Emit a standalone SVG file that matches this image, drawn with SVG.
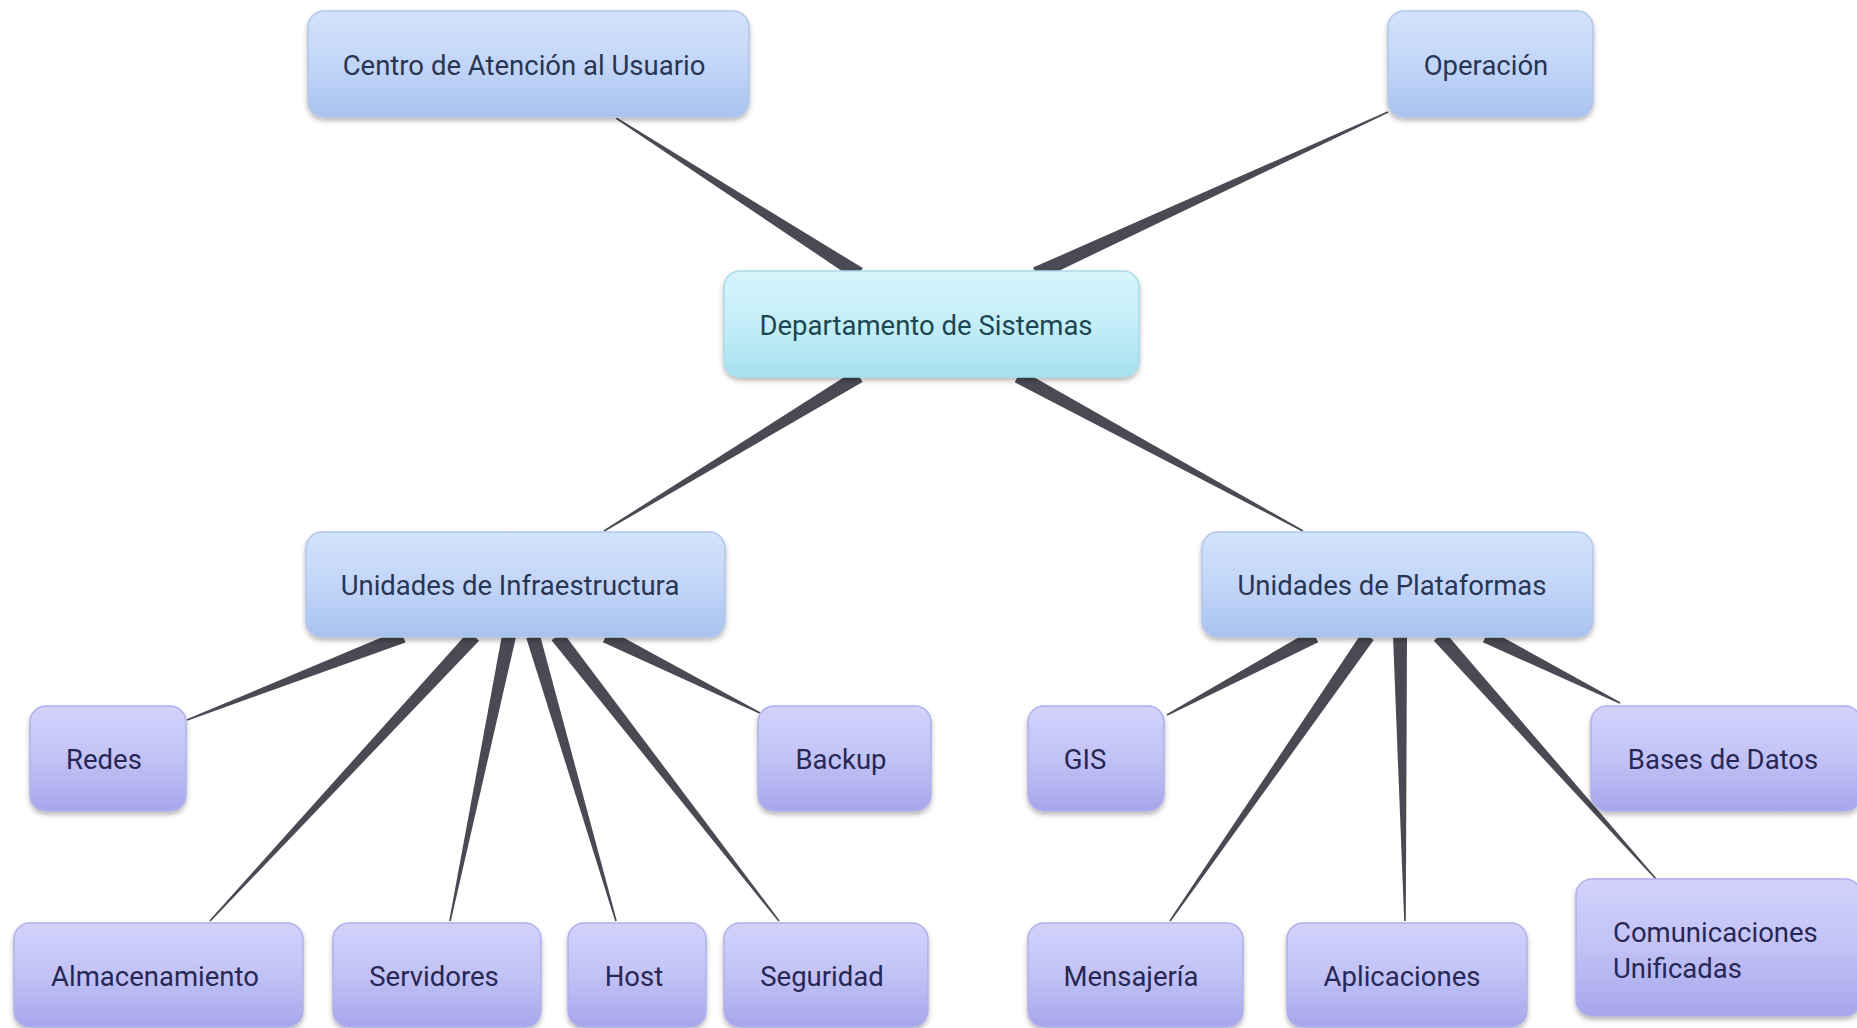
<svg xmlns="http://www.w3.org/2000/svg" width="1857" height="1028" viewBox="0 0 1857 1028">
<defs>
<linearGradient id="gBlue" x1="0" y1="0" x2="0" y2="1">
<stop offset="0" stop-color="#d3e3fc"/><stop offset="0.5" stop-color="#c3d6f8"/><stop offset="1" stop-color="#a8c2ef"/>
</linearGradient>
<linearGradient id="gCyan" x1="0" y1="0" x2="0" y2="1">
<stop offset="0" stop-color="#d6f5fc"/><stop offset="0.5" stop-color="#c4eef8"/><stop offset="1" stop-color="#a6e0ef"/>
</linearGradient>
<linearGradient id="gLav" x1="0" y1="0" x2="0" y2="1">
<stop offset="0" stop-color="#d2d2fc"/><stop offset="0.5" stop-color="#c2c2f6"/><stop offset="1" stop-color="#a6a6ec"/>
</linearGradient>
<filter id="sh" x="-10%" y="-10%" width="120%" height="130%">
<feDropShadow dx="0" dy="3" stdDeviation="2.5" flood-color="#000" flood-opacity="0.28"/>
</filter>
</defs>
<style>
.n{filter:url(#sh);stroke-width:1.5}
.blue{fill:url(#gBlue);stroke:#b3c6ea}
.cyan{fill:url(#gCyan);stroke:#a8dcea}
.lav{fill:url(#gLav);stroke:#b0b0ea}
.t{font-family:Roboto,"Liberation Sans",sans-serif;font-size:27.5px;text-anchor:middle}
.tb{fill:#283654}
.tc{fill:#1c4652}
.tl{fill:#282855}
.e{fill:#4a4a54}
</style>
<rect width="1857" height="1028" fill="#ffffff"/>
<g id="connectors">
<polygon class="e" points="862.8,268.1 855.2,279.9 615.6,118.7 616.4,117.3"/>
<polygon class="e" points="1033.1,267.6 1038.9,280.4 1388.3,112.7 1387.7,111.3"/>
<polygon class="e" points="855.4,370 862.6,382 604.4,531.7 603.6,530.3"/>
<polygon class="e" points="1021.3,369.9 1014.7,382.2 1302.6,531.7 1303.4,530.3"/>
<polygon class="e" points="400.5,629.5 405.5,642.5 187.3,720.7 186.7,719.3"/>
<polygon class="e" points="468.9,631.2 479.1,640.8 210.6,921.5 209.4,920.5"/>
<polygon class="e" points="502.1,634.6 515.9,637.4 450.8,921.2 449.2,920.8"/>
<polygon class="e" points="526.3,638 539.7,634 616.8,920.8 615.2,921.2"/>
<polygon class="e" points="551.5,640.3 562.5,631.7 779.6,920.5 778.4,921.5"/>
<polygon class="e" points="602.9,642.3 609.1,629.7 760.4,712.3 759.6,713.7"/>
<polygon class="e" points="1311.7,629.8 1318.3,642.2 1167.4,715.7 1166.6,714.3"/>
<polygon class="e" points="1362.3,632 1373.7,640 1170.7,921.5 1169.3,920.5"/>
<polygon class="e" points="1393,636.1 1407,635.9 1405.8,921 1404.2,921"/>
<polygon class="e" points="1433.8,640.7 1444.2,631.3 1656.6,878.5 1655.4,879.5"/>
<polygon class="e" points="1482.9,642.3 1489.1,629.7 1620.4,702.3 1619.6,703.7"/>
</g>
<g id="centro"><rect class="n blue" x="308" y="11" width="441" height="106" rx="16"/><text class="t tb" x="524" y="75">Centro de Atención al Usuario</text></g>
<g id="operacion"><rect class="n blue" x="1388" y="11" width="205" height="106" rx="16"/><text class="t tb" x="1486" y="75">Operación</text></g>
<g id="departamento"><rect class="n cyan" x="724" y="271" width="415" height="106" rx="16"/><text class="t tc" x="926" y="335">Departamento de Sistemas</text></g>
<g id="infraestructura"><rect class="n blue" x="306" y="532" width="419" height="105" rx="16"/><text class="t tb" x="510" y="595">Unidades de Infraestructura</text></g>
<g id="plataformas"><rect class="n blue" x="1202" y="532" width="391" height="105" rx="16"/><text class="t tb" x="1392" y="595">Unidades de Plataformas</text></g>
<g id="redes"><rect class="n lav" x="30" y="706" width="156" height="105" rx="16"/><text class="t tl" x="104" y="769">Redes</text></g>
<g id="backup"><rect class="n lav" x="758" y="706" width="173" height="105" rx="16"/><text class="t tl" x="841" y="769">Backup</text></g>
<g id="gis"><rect class="n lav" x="1028" y="706" width="136" height="105" rx="16"/><text class="t tl" x="1085" y="769">GIS</text></g>
<g id="bases"><rect class="n lav" x="1591" y="706" width="270" height="105" rx="16"/><text class="t tl" x="1723" y="769">Bases de Datos</text></g>
<g id="almacenamiento"><rect class="n lav" x="14" y="923" width="289" height="104" rx="16"/><text class="t tl" x="155" y="986">Almacenamiento</text></g>
<g id="servidores"><rect class="n lav" x="333" y="923" width="208" height="104" rx="16"/><text class="t tl" x="434" y="986">Servidores</text></g>
<g id="host"><rect class="n lav" x="568" y="923" width="138" height="104" rx="16"/><text class="t tl" x="634" y="986">Host</text></g>
<g id="seguridad"><rect class="n lav" x="724" y="923" width="204" height="104" rx="16"/><text class="t tl" x="822" y="986">Seguridad</text></g>
<g id="mensajeria"><rect class="n lav" x="1028" y="923" width="215" height="104" rx="16"/><text class="t tl" x="1131" y="986">Mensajería</text></g>
<g id="aplicaciones"><rect class="n lav" x="1287" y="923" width="240" height="104" rx="16"/><text class="t tl" x="1402" y="986">Aplicaciones</text></g>
<g id="comunicaciones"><rect class="n lav" x="1576" y="879" width="285" height="137" rx="16"/><text class="t tl" x="1613" y="942" style="text-anchor:start">Comunicaciones</text><text class="t tl" x="1613" y="978" style="text-anchor:start">Unificadas</text></g>
</svg>
